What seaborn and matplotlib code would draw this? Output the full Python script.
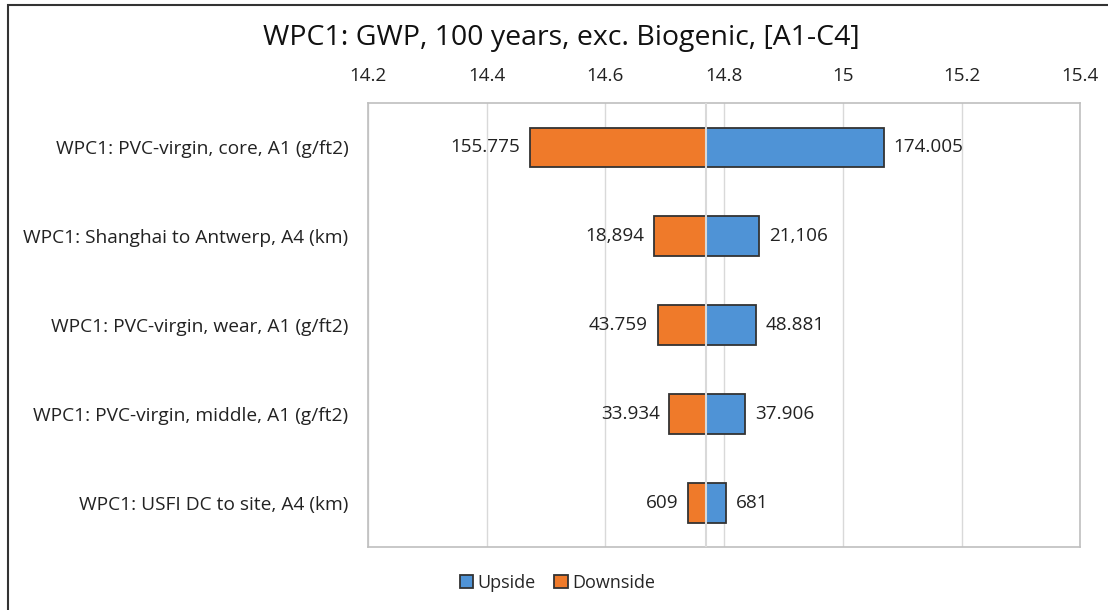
import numpy as np
import pandas as pd
import seaborn as sns
import matplotlib.pyplot as plt
from matplotlib.patches import Rectangle

#=============================== Data
params = ["WPC1: PVC-virgin, core, A1 (g/ft2)",
          "WPC1: Shanghai to Antwerp, A4 (km)",
          "WPC1: PVC-virgin, wear, A1 (g/ft2)",
          "WPC1: PVC-virgin, middle, A1 (g/ft2)",
          "WPC1: USFI DC to site, A4 (km)"]
base_value = 14.770
upside_vals = [15.069, 14.859, 14.853, 14.836, 14.803]
downside_vals = [14.473, 14.682, 14.688, 14.708, 14.740]
upside_labels = ["174.005", "21,106", "48.881", "37.906", "681"]
downside_labels = ["155.775", "18,894", "43.759", "33.934", "609"]
x_ticks = [14.2, 14.4, 14.6, 14.8, 15.0, 15.2, 15.4]
title = "WPC1: GWP, 100 years, exc. Biogenic, [A1-C4]"

df = pd.DataFrame({
    "param": params + params,
    "series": ["Upside"] * len(params) + ["Downside"] * len(params),
    "delta": [v - base_value for v in upside_vals + downside_vals],
})

sns.set_theme(style="white")
plt.rcParams['font.family'] = ['Open Sans', 'DejaVu Sans']

fig = plt.figure(figsize=(11.08, 6.10), dpi=100)
ax = fig.add_axes([0.332, 0.103, 0.643, 0.728])
ax.set_axisbelow(True)
ax.grid(axis='x', color='#d9d9d9', lw=1.0)

sns.barplot(data=df, x="delta", y="param", hue="series", dodge=False,
            palette={"Upside": "#4F93D6", "Downside": "#EF7A2A"}, saturation=1,
            width=0.45, edgecolor="#333333", linewidth=1.3, orient='h',
            ax=ax, zorder=3)

ax.axvline(0, color='#d9d9d9', lw=1.5, zorder=4)

# bar value labels (containers follow hue order: Upside, Downside)
for cont, labs in zip(ax.containers, [upside_labels, downside_labels]):
    ax.bar_label(cont, labels=labs, padding=7, fontsize=13.6, color='#222222')

ax.set_xlim(x_ticks[0] - base_value, x_ticks[-1] - base_value)
ax.set_xticks([t - base_value for t in x_ticks])
ax.set_xticklabels([f"{t:g}" for t in x_ticks])
ax.xaxis.tick_top()
ax.tick_params(axis='x', length=0, pad=13, labelsize=13.6, colors='#222222')
ax.tick_params(axis='y', length=0, pad=14, labelsize=13.8, colors='#222222')
ax.set_xlabel('')
ax.set_ylabel('')
for sp in ax.spines.values():
    sp.set_color('#bfbfbf')
    sp.set_linewidth(1.2)

sns.move_legend(ax, "center", bbox_to_anchor=(0.266, -0.081), ncol=2,
                frameon=False, title=None, fontsize=13,
                handlelength=0.75, handleheight=0.75, handletextpad=0.25,
                columnspacing=1.0)

fig.text(0.507, 0.938, title, ha='center', va='center', fontsize=20.5,
         color='#111111')

fig.patches.append(Rectangle((8 / 1108, -0.1), 1.5, 1.0918, transform=fig.transFigure,
                             fill=False, edgecolor='#333333', lw=1.5))

fig.savefig("out.png", dpi=100)
